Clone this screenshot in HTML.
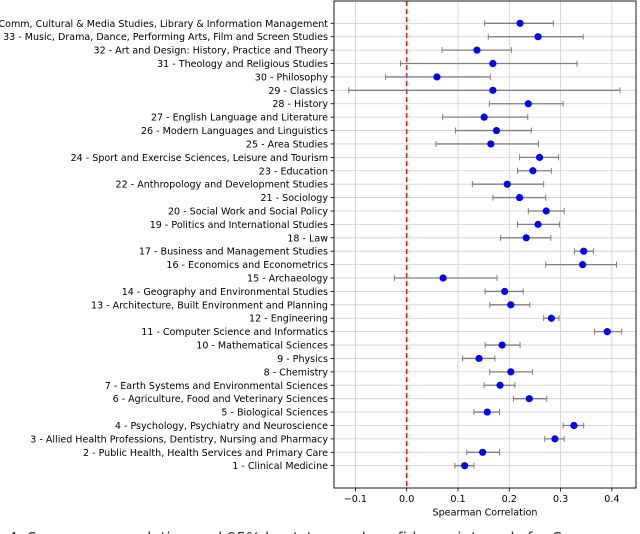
<!DOCTYPE html>
<html><head><meta charset="utf-8"><style>
html,body{margin:0;padding:0;background:#fff;width:640px;height:534px;overflow:hidden}
svg{display:block;font-family:"DejaVu Sans","Liberation Sans",sans-serif}
</style></head><body>
<svg id="chart" width="640" height="534"></svg>
<script>
const labels = ["1 - Clinical Medicine","2 - Public Health, Health Services and Primary Care","3 - Allied Health Professions, Dentistry, Nursing and Pharmacy","4 - Psychology, Psychiatry and Neuroscience","5 - Biological Sciences","6 - Agriculture, Food and Veterinary Sciences","7 - Earth Systems and Environmental Sciences","8 - Chemistry","9 - Physics","10 - Mathematical Sciences","11 - Computer Science and Informatics","12 - Engineering","13 - Architecture, Built Environment and Planning","14 - Geography and Environmental Studies","15 - Archaeology","16 - Economics and Econometrics","17 - Business and Management Studies","18 - Law","19 - Politics and International Studies","20 - Social Work and Social Policy","21 - Sociology","22 - Anthropology and Development Studies","23 - Education","24 - Sport and Exercise Sciences, Leisure and Tourism","25 - Area Studies","26 - Modern Languages and Linguistics","27 - English Language and Literature","28 - History","29 - Classics","30 - Philosophy","31 - Theology and Religious Studies","32 - Art and Design: History, Practice and Theory","33 - Music, Drama, Dance, Performing Arts, Film and Screen Studies","34 - Comm, Cultural & Media Studies, Library & Information Management"];
const corr = [0.113,0.148,0.289,0.326,0.157,0.239,0.182,0.203,0.141,0.186,0.391,0.282,0.203,0.191,0.071,0.343,0.345,0.233,0.256,0.272,0.220,0.196,0.246,0.259,0.164,0.175,0.151,0.237,0.168,0.059,0.168,0.137,0.256,0.221];
const lower = [0.094,0.117,0.269,0.305,0.131,0.208,0.151,0.162,0.109,0.153,0.366,0.267,0.162,0.153,-0.024,0.271,0.327,0.183,0.216,0.237,0.168,0.128,0.216,0.220,0.057,0.095,0.070,0.161,-0.113,-0.041,-0.012,0.069,0.159,0.152];
const upper = [0.131,0.181,0.307,0.345,0.181,0.273,0.211,0.245,0.172,0.221,0.419,0.297,0.240,0.227,0.176,0.409,0.364,0.281,0.298,0.307,0.271,0.267,0.282,0.296,0.257,0.243,0.236,0.305,0.416,0.163,0.332,0.204,0.344,0.286];
const xticks = [-0.1,0.0,0.1,0.2,0.3,0.4];
const xtickLabels = ["\u22120.1","0.0","0.1","0.2","0.3","0.4"];

const svg = document.getElementById('chart');
const NS = 'http://www.w3.org/2000/svg';
const L=334, R=636, T=1, B=488;
const xMin=-0.1417, xMax=0.447;
const xs = v => L + (v - xMin)/(xMax - xMin)*(R-L);
const rowTop=23.3, rowBottom=465.7;
const ys = i => rowBottom - i*(rowBottom-rowTop)/(labels.length-1);
function mk(tag, attrs){const e=document.createElementNS(NS,tag);for(const k in attrs)e.setAttribute(k,attrs[k]);svg.appendChild(e);return e;}

xticks.forEach((t,i)=>{
  const g=mk('line',{x1:xs(t),x2:xs(t),y1:T,y2:B,stroke:'#cfcfcf','stroke-width':0.8});
  
  
});
labels.forEach((l,i)=>{
  const g=mk('line',{x1:L,x2:R,y1:ys(i),y2:ys(i),stroke:'#cfcfcf','stroke-width':0.8});
  
  
});
const z=mk('line',{x1:xs(0),x2:xs(0),y1:T,y2:B,stroke:'#e8231f','stroke-width':1.6,'stroke-dasharray':'5,3'});



labels.forEach((l,i)=>{
  const y=ys(i);
  const e=mk('line',{x1:xs(lower[i]),x2:xs(upper[i]),y1:y,y2:y,stroke:'#7f7f7f','stroke-width':1.3});
  
  
  [lower[i],upper[i]].forEach(v=>{
    const c=mk('line',{x1:xs(v),x2:xs(v),y1:y-3,y2:y+3,stroke:'#7f7f7f','stroke-width':1});
    
    
  });
  const p=mk('circle',{cx:xs(corr[i]),cy:y,r:3.6,fill:'#0000ff'});
  
  
  const tk=mk('line',{x1:L-3.5,x2:L,y1:y,y2:y,stroke:'#000','stroke-width':0.8});
  
  
  const t=mk('text',{x:L-6,y:y+3.5,'text-anchor':'end','font-size':'9.55',fill:'#000'});
  t.textContent=l;
  
  
});
const f=mk('rect',{x:L,y:T,width:R-L,height:B-T,fill:'none',stroke:'#000','stroke-width':0.9});


xticks.forEach((t,i)=>{
  const tk=mk('line',{x1:xs(t),x2:xs(t),y1:B,y2:B+3.5,stroke:'#000','stroke-width':0.8});
  
  
  const lb=mk('text',{x:xs(t),y:B+14,'text-anchor':'middle','font-size':'9.6',fill:'#000'});
  lb.textContent=xtickLabels[i];
  
  
});
const xt=mk('text',{x:(L+R)/2,y:B+27.5,'text-anchor':'middle','font-size':'9.6',fill:'#000'});
xt.textContent='Spearman Correlation';


const cap=mk('text',{x:-6,y:543,'font-size':'15',fill:'#333'});
cap.textContent='e 4: Spearman correlation and 95% bootstrapped confidence intervals for Spearman correl';


</script>
</body></html>
